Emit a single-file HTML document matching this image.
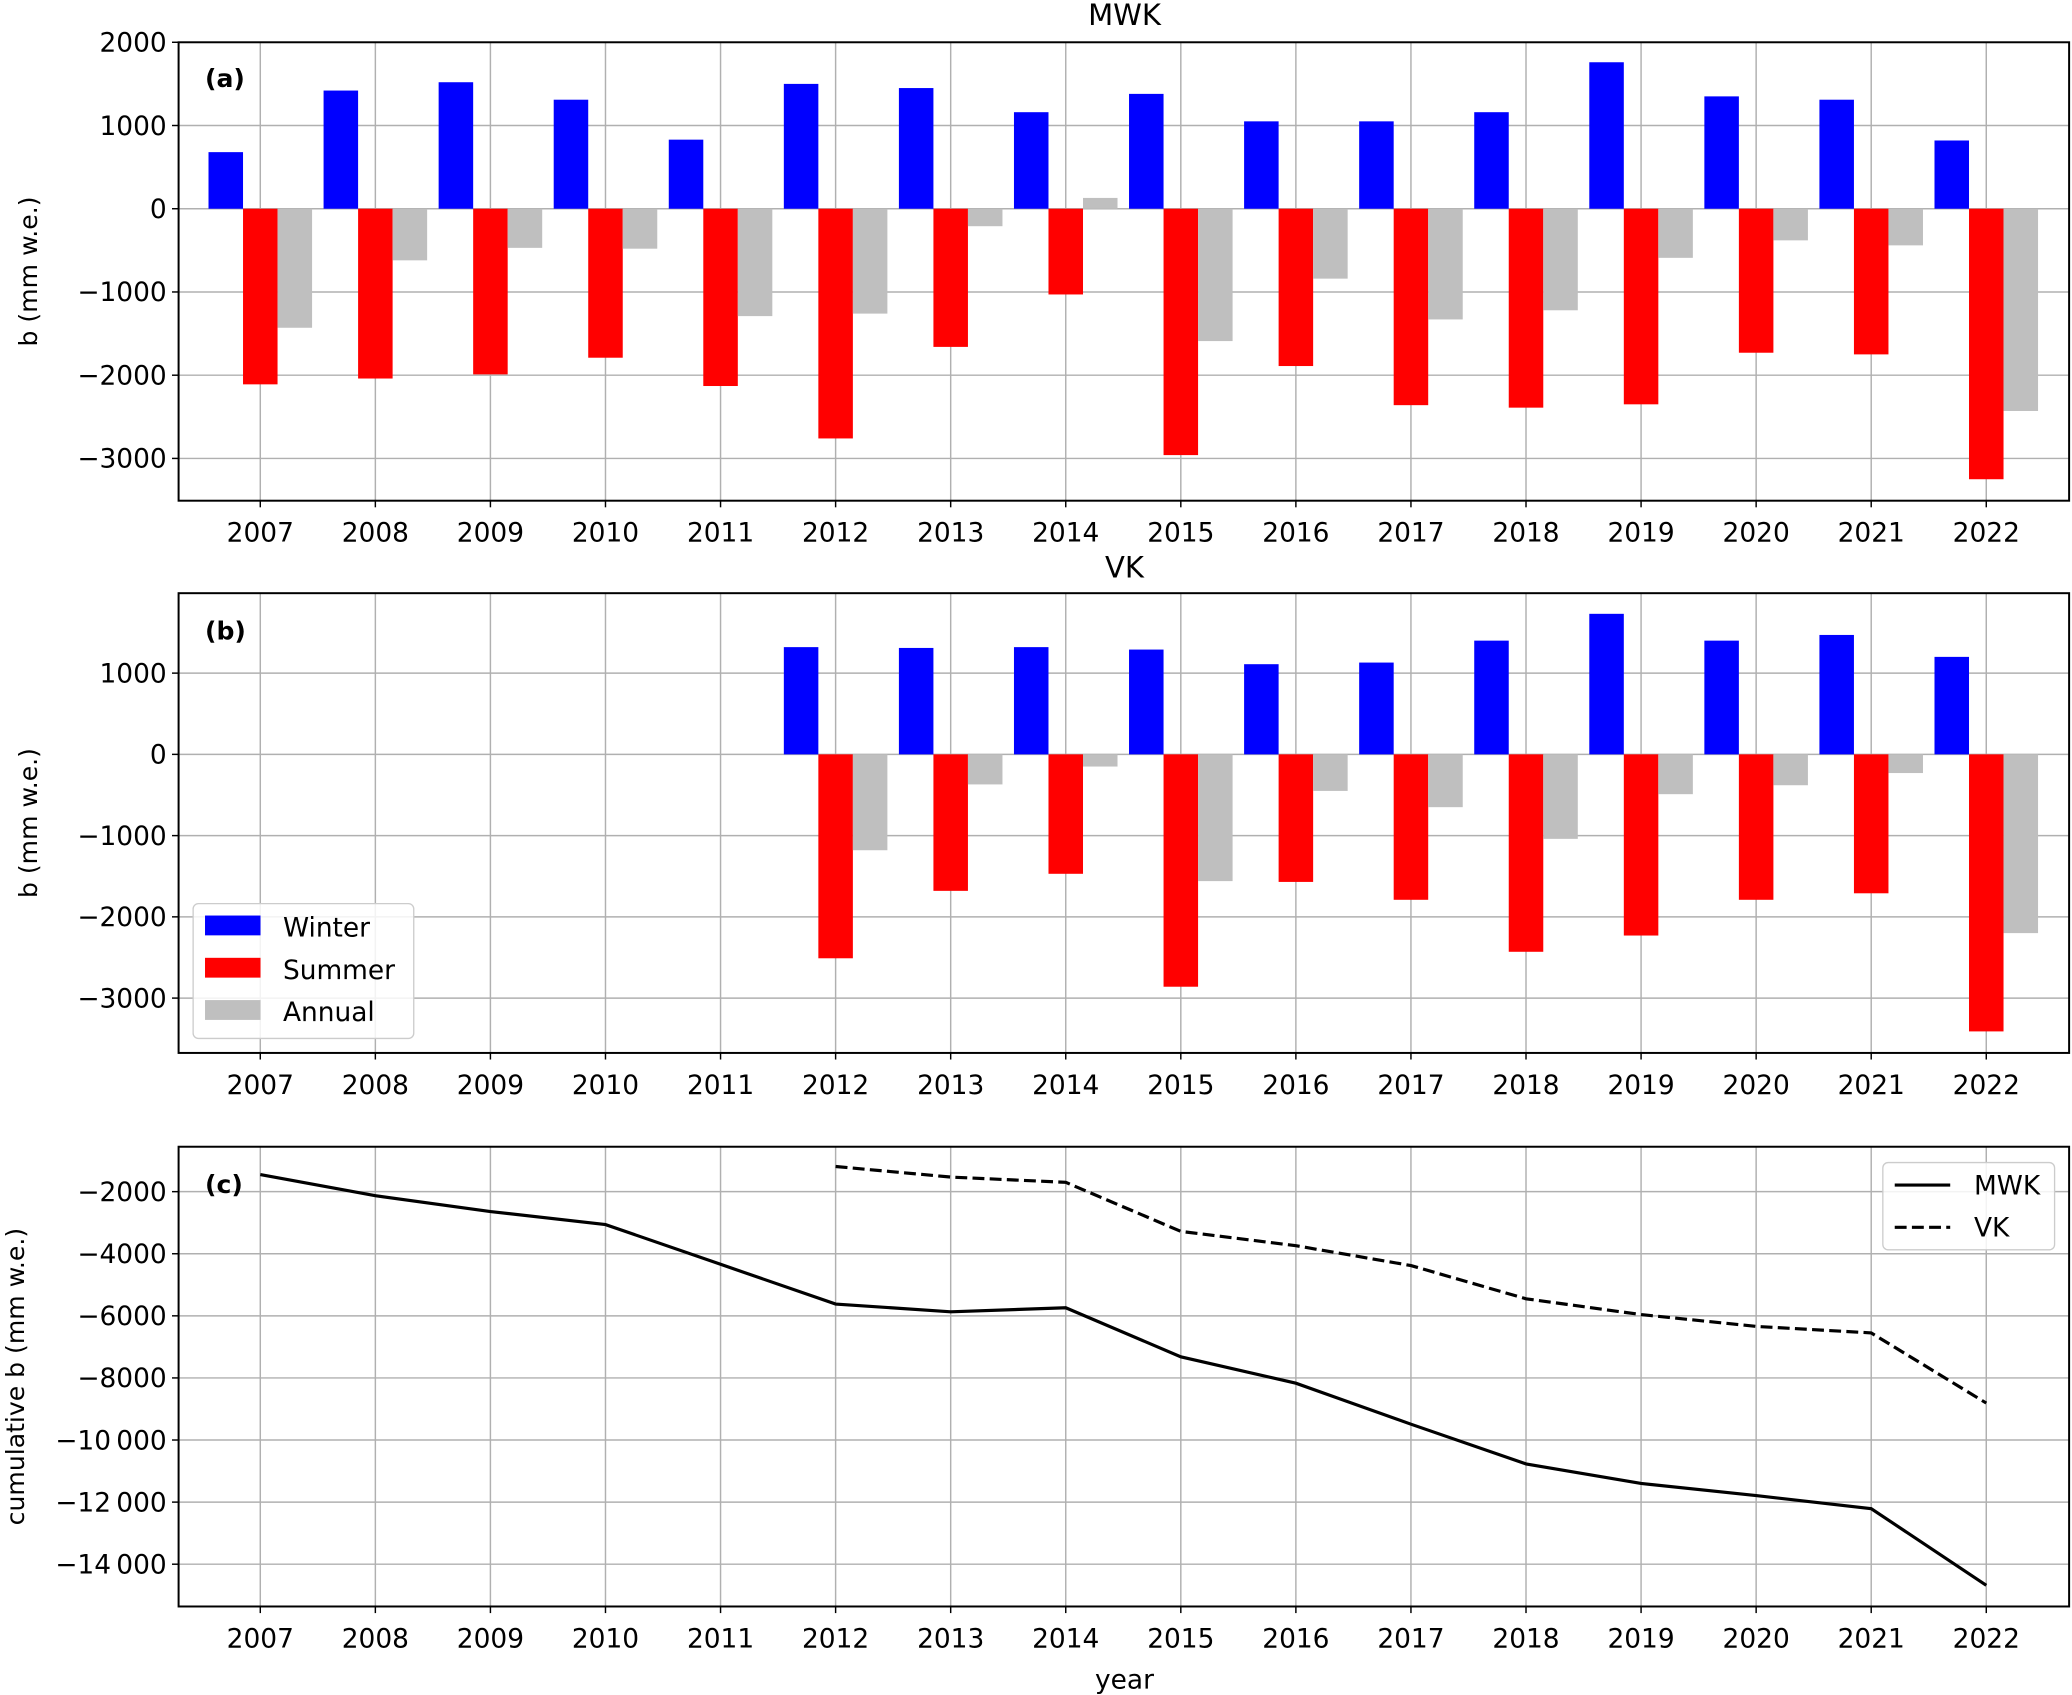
<!DOCTYPE html>
<html><head><meta charset="utf-8"><style>
html,body{margin:0;padding:0;background:#fff;}
svg{display:block;font-family:"DejaVu Sans","Liberation Sans",sans-serif;}
</style></head><body>
<svg id="fig" width="2072" height="1695" viewBox="0 0 1568 1283" xmlns="http://www.w3.org/2000/svg"></svg>
<script>
const years=[2007,2008,2009,2010,2011,2012,2013,2014,2015,2016,2017,2018,2019,2020,2021,2022];
const mwkWinter=[680,1420,1520,1310,830,1500,1450,1160,1380,1050,1050,1160,1760,1350,1310,820];
const mwkSummer=[-2110,-2040,-1990,-1790,-2130,-2760,-1660,-1030,-2960,-1890,-2360,-2390,-2350,-1730,-1750,-3250];
const mwkAnnual=[-1430,-620,-470,-480,-1290,-1260,-210,130,-1590,-840,-1330,-1220,-590,-380,-440,-2430];
const vkYears=[2012,2013,2014,2015,2016,2017,2018,2019,2020,2021,2022];
const vkWinter=[1320,1310,1320,1290,1110,1130,1400,1730,1400,1470,1200];
const vkSummer=[-2510,-1680,-1470,-2860,-1570,-1790,-2430,-2230,-1790,-1710,-3410];
const vkAnnual=[-1180,-370,-150,-1560,-450,-650,-1040,-490,-380,-230,-2200];
const mwkCum=[-1450,-2130,-2640,-3060,-4340,-5620,-5870,-5740,-7320,-8170,-9490,-10770,-11400,-11790,-12210,-14680];
const vkCum=[-1190,-1530,-1700,-3280,-3740,-4380,-5450,-5960,-6340,-6550,-8810];
const ticksAB=[2000,1000,0,-1000,-2000,-3000];
const ticksB=[1000,0,-1000,-2000,-3000];
const ticksC=[-2000,-4000,-6000,-8000,-10000,-12000,-14000];

const svg=document.getElementById('fig');
const NS='http://www.w3.org/2000/svg';
function el(tag,attrs,parent){const e=document.createElementNS(NS,tag);for(const k in attrs)e.setAttribute(k,attrs[k]);(parent||svg).appendChild(e);return e;}
function txt(s,attrs,parent){const e=el('text',attrs,parent);e.textContent=s;return e;}
const L=135,R=1566,X0=2006.29,X1=2022.72;
const xs=v=>L+(v-X0)/(X1-X0)*(R-L);
function fmt(v){let s=Math.abs(v).toString();if(Math.abs(v)>=10000)s=s.slice(0,-3)+'\u2009'+s.slice(-3);return (v<0?'\u2212':'')+s;}

function panel(name,top,bot,ymin,ymax,ticks,ylabel){
  const g=el('g',{});
  
  
  const ys=v=>top+(ymax-v)/(ymax-ymin)*(bot-top);
  years.forEach(y=>{
    const l=el('line',{x1:xs(y),x2:xs(y),y1:top,y2:bot,stroke:'#b0b0b0','stroke-width':1.1},g);
    
    
    el('line',{x1:xs(y),x2:xs(y),y1:bot,y2:bot+5,stroke:'#000','stroke-width':1.1},g);
    const t=txt(String(y),{x:xs(y),y:bot+31,'text-anchor':'middle','font-size':20},g);
    
    
  });
  ticks.forEach(v=>{
    const l=el('line',{x1:L,x2:R,y1:ys(v),y2:ys(v),stroke:'#b0b0b0','stroke-width':1.1},g);
    
    
    el('line',{x1:L-5,x2:L,y1:ys(v),y2:ys(v),stroke:'#000','stroke-width':1.1},g);
    const t=txt(fmt(v),{x:L-9,y:ys(v)+7,'text-anchor':'end','font-size':20},g);
    
    
  });
  const yl=txt(ylabel,{x:0,y:0,'text-anchor':'middle','font-size':19,transform:`translate(${ylabel.length>15?18:28},${(top+bot)/2}) rotate(-90)`},g);
  
  
  return {g,ys,top,bot};
}
function bars(p,yrs,vals,off,color,nm){
  yrs.forEach((y,i)=>{
    const v=vals[i],x=xs(y+off-0.15),w=xs(y+off+0.15)-x;
    const y0=p.ys(Math.max(0,v)),h=Math.abs(p.ys(v)-p.ys(0));
    const r=el('rect',{x:x,y:y0,width:w,height:h,fill:color},p.g);
    
    
  });
}
function frame(p){el('rect',{x:L,y:p.top,width:R-L,height:p.bot-p.top,fill:'none',stroke:'#000','stroke-width':1.5},p.g);}

const pa=panel('panel-a-mwk',32,379,-3508,2000,ticksAB,'b (mm w.e.)');
bars(pa,years,mwkWinter,-0.3,'#0000ff','mwk-winter-bar');
bars(pa,years,mwkSummer,0,'#ff0000','mwk-summer-bar');
bars(pa,years,mwkAnnual,0.3,'#bfbfbf','mwk-annual-bar');
frame(pa);
let t=txt('MWK',{x:851,y:19,'text-anchor':'middle','font-size':22});

t=txt('(a)',{x:155,y:66,'font-size':19,'font-weight':'bold'});


const pb=panel('panel-b-vk',449,797,-3675,1984,ticksB,'b (mm w.e.)');
bars(pb,vkYears,vkWinter,-0.3,'#0000ff','vk-winter-bar');
bars(pb,vkYears,vkSummer,0,'#ff0000','vk-summer-bar');
bars(pb,vkYears,vkAnnual,0.3,'#bfbfbf','vk-annual-bar');
frame(pb);
t=txt('VK',{x:851,y:437,'text-anchor':'middle','font-size':22});

t=txt('(b)',{x:155,y:484,'font-size':19,'font-weight':'bold'});

const lg=el('g',{});

el('rect',{x:146,y:684,width:167,height:102,rx:4,fill:'#fff','fill-opacity':0.85,stroke:'#ccc'},lg);
[['Winter','#0000ff'],['Summer','#ff0000'],['Annual','#bfbfbf']].forEach((d,i)=>{
  el('rect',{x:155,y:693+i*32,width:42,height:15,fill:d[1]},lg);
  const e=txt(d[0],{x:214,y:709+i*32,'font-size':20},lg);
  
  
});

const pc=panel('panel-c-cumulative',868,1216,-15362,-553,ticksC,'cumulative b (mm w.e.)');
function line(p,yrs,vals,dash,nm){
  const d=yrs.map((y,i)=>(i?'L':'M')+xs(y)+','+p.ys(vals[i])).join(' ');
  const e=el('path',{d:d,fill:'none',stroke:'#000','stroke-width':2.4,'stroke-dasharray':dash||'none'},p.g);
  
  
}
line(pc,years,mwkCum,null,'mwk-cumulative-line');
line(pc,vkYears,vkCum,'9,4','vk-cumulative-line');
frame(pc);
t=txt('(c)',{x:155,y:903,'font-size':19,'font-weight':'bold'});

t=txt('year',{x:851,y:1278,'text-anchor':'middle','font-size':20});

const lc=el('g',{});

el('rect',{x:1425,y:880,width:130,height:66,rx:4,fill:'#fff','fill-opacity':0.85,stroke:'#ccc'},lc);
el('line',{x1:1434,x2:1476,y1:897,y2:897,stroke:'#000','stroke-width':2.4},lc);
el('line',{x1:1434,x2:1476,y1:929,y2:929,stroke:'#000','stroke-width':2.4,'stroke-dasharray':'9,4'},lc);
t=txt('MWK',{x:1494,y:904,'font-size':20},lc);

t=txt('VK',{x:1494,y:936,'font-size':20},lc);

</script>
</body></html>
